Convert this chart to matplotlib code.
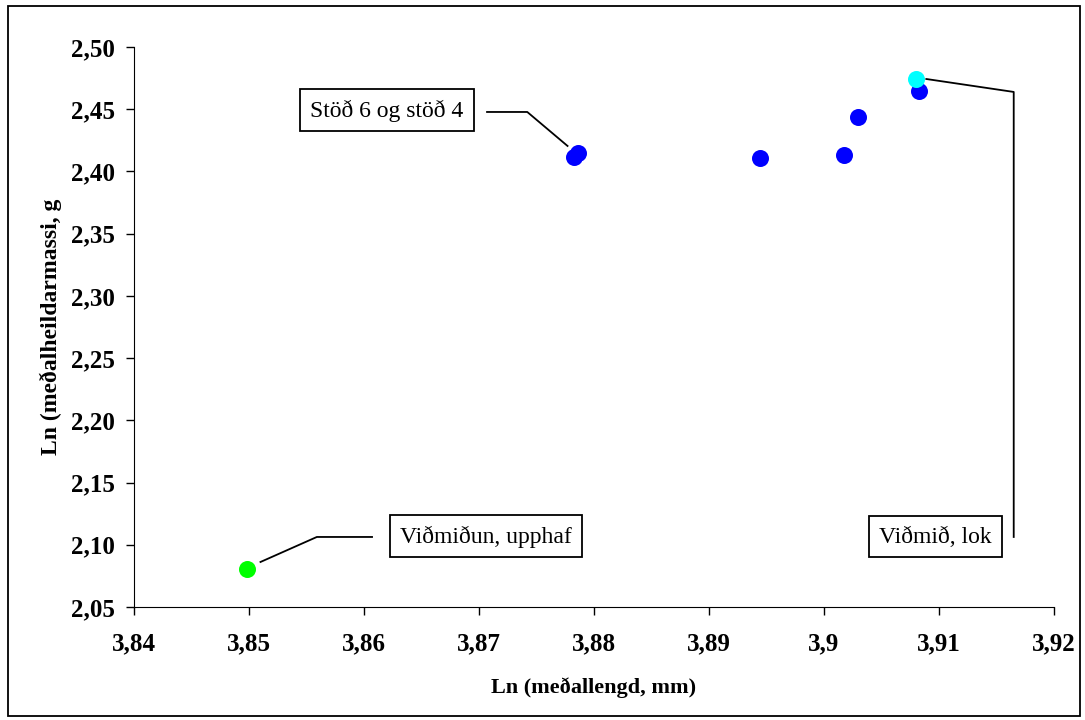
import matplotlib
matplotlib.use('Agg')
import matplotlib.pyplot as plt
from matplotlib.patches import Rectangle

# Ln(mean length, mm) vs Ln(mean total mass, g) per station
blue_x = [3.8783, 3.8786, 3.8944, 3.9017, 3.9030, 3.9083]
blue_y = [2.4116, 2.4148, 2.4108, 2.4132, 2.4438, 2.4647]
start_x, start_y = [3.8498], [2.0805]   # Viðmiðun, upphaf
end_x, end_y = [3.9080], [2.4741]       # Viðmið, lok

x_ticks = [3.84, 3.85, 3.86, 3.87, 3.88, 3.89, 3.90, 3.91, 3.92]
x_labels = ['3,84', '3,85', '3,86', '3,87', '3,88', '3,89', '3,9', '3,91', '3,92']
y_ticks = [2.05, 2.10, 2.15, 2.20, 2.25, 2.30, 2.35, 2.40, 2.45, 2.50]
y_labels = ['2,05', '2,10', '2,15', '2,20', '2,25', '2,30', '2,35', '2,40', '2,45', '2,50']

plt.rcParams['font.family'] = ['Liberation Serif', 'DejaVu Serif']

fig = plt.figure(figsize=(10.85, 7.2), dpi=100)
ax = fig.add_axes([0.1235, 0.1569, 0.8479, 0.7778])

ax.scatter(blue_x, blue_y, s=150, color='#0000FF', zorder=3, linewidths=0)
ax.scatter(start_x, start_y, s=150, color='#00FF00', zorder=3, linewidths=0)
ax.scatter(end_x, end_y, s=150, color='#00FFFF', zorder=4, linewidths=0)

ax.set_xlim(3.84, 3.92)
ax.set_ylim(2.05, 2.50)
ax.set_xticks(x_ticks)
ax.set_xticklabels(x_labels)
ax.set_yticks(y_ticks)
ax.set_yticklabels(y_labels)
ax.tick_params(direction='out', length=6, width=1, labelsize=18)
ax.tick_params(axis='x', pad=12)
ax.tick_params(axis='y', pad=8)
for lbl in ax.get_xticklabels() + ax.get_yticklabels():
    lbl.set_fontweight('bold')
ax.spines['top'].set_visible(False)
ax.spines['right'].set_visible(False)

ax.set_xlabel('Ln (meðallengd, mm)', fontsize=16, fontweight='bold', labelpad=16)
ax.set_ylabel('Ln (meðalheildarmassi, g', fontsize=17, fontweight='bold', labelpad=6)

box = dict(boxstyle='square,pad=0.42', facecolor='white', edgecolor='black', linewidth=1.3)
line = dict(color='black', linewidth=1.3)

# leader lines: text box -> elbow -> marker
ax.plot([3.8777, 3.8742, 3.8707], [2.4205, 2.4478, 2.4478], **line)
ax.annotate('Stöð 6 og stöð 4', xy=(3.8620, 2.4490), ha='center', va='center',
            fontsize=17, bbox=box)

ax.plot([3.8510, 3.8559, 3.8607], [2.0862, 2.1063, 2.1063], **line)
ax.annotate('Viðmiðun, upphaf', xy=(3.8706, 2.1067), ha='center', va='center',
            fontsize=17, bbox=box)

ax.plot([3.9089, 3.9165, 3.9165], [2.4743, 2.4639, 2.1063], **line)
ax.annotate('Viðmið, lok', xy=(3.9097, 2.1063), ha='center', va='center',
            fontsize=17, bbox=box)

# outer chart frame
fig.patches.append(Rectangle((0.007, 0.006), 0.988, 0.985, transform=fig.transFigure,
                             fill=False, edgecolor='black', linewidth=1.3))

fig.savefig('out.png', dpi=100)
